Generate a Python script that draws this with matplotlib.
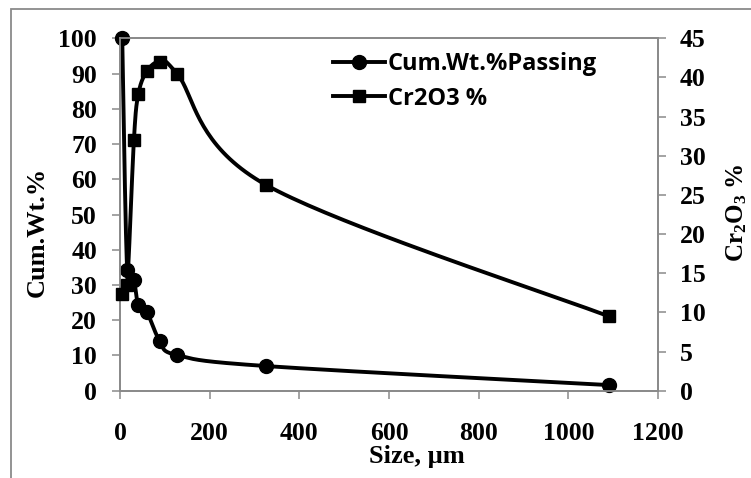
import numpy as np
import matplotlib
matplotlib.use("Agg")
import matplotlib.pyplot as plt
from matplotlib.lines import Line2D
from matplotlib.patches import Rectangle

# ---- data ----
size_um = [5, 16, 31, 41, 60, 89, 127, 325, 1090]
cum_wt_passing = [100, 34.2, 31.3, 24.2, 22.3, 14.1, 10.1, 7.0, 1.6]
cr2o3_pct = [12.4, 13.5, 32.0, 37.9, 40.8, 42.0, 40.5, 26.3, 9.5]
x_ticks = [0, 200, 400, 600, 800, 1000, 1200]
y_left_ticks = list(range(0, 101, 10))
y_right_ticks = list(range(0, 46, 5))
legend_labels = ["Cum.Wt.%Passing", "Cr2O3 %"]

plt.rcParams['mathtext.fontset'] = 'custom'
plt.rcParams['mathtext.rm'] = 'Liberation Serif:bold'
plt.rcParams['mathtext.bf'] = 'Liberation Serif:bold'
plt.rcParams['mathtext.it'] = 'Liberation Serif:bold'

W, H = 751, 478
fig = plt.figure(figsize=(W / 100, H / 100), dpi=100)
GRAY = '#8a8a8a'

# outer chart border (cropped on right/bottom)
fig.patches.append(Rectangle((11 / W, -0.2), 1.2, 1 - 9 / H + 0.2, transform=fig.transFigure,
                             fill=False, edgecolor=GRAY, lw=1.3))

L, R, T, B = 120, 658, 38.3, 390.7
ax = fig.add_axes([L / W, (H - B) / H, (R - L) / W, (B - T) / H])
ax2 = ax.twinx()
ax.set_xlim(0, 1200)
ax.set_ylim(0, 100)
ax2.set_ylim(0, 45)

wpx, hpx = R - L, B - T


def excel_smooth(xs, ys, sx, sy, n=40):
    P = np.column_stack([np.asarray(xs, float) * sx, np.asarray(ys, float) * sy])
    out = []
    for i in range(len(P) - 1):
        p0 = P[i - 1] if i > 0 else P[i]
        p1, p2 = P[i], P[i + 1]
        p3 = P[i + 2] if i + 2 < len(P) else P[i + 1]
        c1 = p1 + (p2 - p0) / 6.0
        c2 = p2 - (p3 - p1) / 6.0
        t = np.linspace(0, 1, n)[:, None]
        seg = (1 - t) ** 3 * p1 + 3 * (1 - t) ** 2 * t * c1 + 3 * (1 - t) * t ** 2 * c2 + t ** 3 * p2
        out.append(seg if i == 0 else seg[1:])
    pts = np.vstack(out)
    return pts[:, 0] / sx, pts[:, 1] / sy


lw = 2.8
cx, cy = excel_smooth(size_um, cum_wt_passing, wpx / 1200, hpx / 100)
ax.plot(cx, cy, color='black', lw=lw, clip_on=False, solid_capstyle='round', zorder=3)
ax.plot(size_um, cum_wt_passing, 'o', color='black', ms=10, clip_on=False, zorder=4)

rx, ry = excel_smooth(size_um, cr2o3_pct, wpx / 1200, hpx / 45)
ax2.plot(rx, ry, color='black', lw=lw, clip_on=False, solid_capstyle='round', zorder=3)
ax2.plot(size_um, cr2o3_pct, 's', color='black', ms=9, clip_on=False, zorder=4)

serif = 'Liberation Serif'
tfs = 18.5
ax.set_xticks(x_ticks)
ax.set_yticks(y_left_ticks)
ax2.set_yticks(y_right_ticks)
for a in (ax, ax2):
    for s in a.spines.values():
        s.set_color(GRAY)
        s.set_linewidth(1.3)
ax.tick_params(axis='x', direction='out', length=5.5, width=1.1, color=GRAY, pad=17)
ax.tick_params(axis='y', direction='out', length=5.5, width=1.1, color=GRAY, pad=11)
ax2.tick_params(axis='y', direction='out', length=5.5, width=1.1, color=GRAY, pad=10)
for lab in ax.get_xticklabels() + ax.get_yticklabels() + ax2.get_yticklabels():
    lab.set_fontfamily(serif)
    lab.set_fontweight('bold')
    lab.set_fontsize(tfs)

fig.text(37 / W, (H - 232) / H, 'Cum.Wt.%', rotation=90, ha='center', va='center',
         family=serif, weight='bold', fontsize=19)
fig.text(417 / W, (H - 463) / H, 'Size, µm', ha='center', va='baseline',
         family=serif, weight='bold', fontsize=19)
fig.text(749 / W, (H - 213) / H, r'Cr$_\mathbf{2}$O$_\mathbf{3}$ %', rotation=90, ha='right', va='center',
         family=serif, weight='bold', fontsize=18)

handles = [Line2D([], [], color='black', lw=lw, marker='o', ms=10),
           Line2D([], [], color='black', lw=lw, marker='s', ms=9)]
leg = fig.legend(handles, legend_labels, loc='upper left', bbox_to_anchor=(333 / W, 1 - 52 / H),
                 bbox_transform=fig.transFigure, frameon=False, borderpad=0, borderaxespad=0,
                 handlelength=2.2, handletextpad=0.12, labelspacing=0.45,
                 prop={'family': 'Open Sans', 'weight': 'bold', 'size': 17})

fig.savefig('out.png', dpi=100)
